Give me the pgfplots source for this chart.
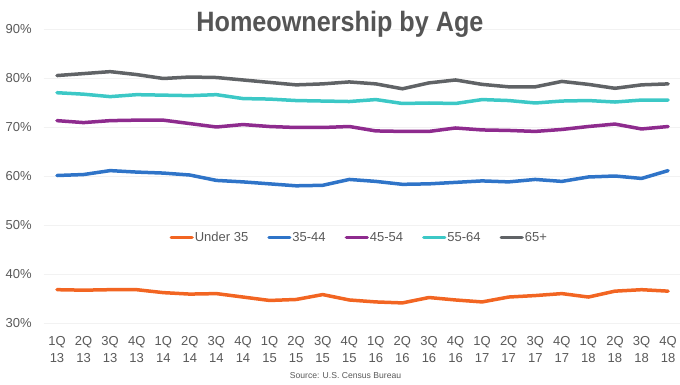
\documentclass[border=0pt]{standalone}
\usepackage{pgfplots}
\pgfplotsset{compat=1.18}
\usepackage{fontspec}
\setmainfont{Liberation Sans}
\newfontfamily\titlefont[FakeStretch=0.9]{Liberation Sans}
\definecolor{cUnder}{HTML}{F26522}
\definecolor{cA}{HTML}{2F74C8}
\definecolor{cB}{HTML}{8E2B8E}
\definecolor{cC}{HTML}{3CC8C6}
\definecolor{cD}{HTML}{606366}
\definecolor{txt}{HTML}{595959}
\definecolor{ttl}{HTML}{555555}
\definecolor{gridc}{HTML}{F2F2F2}
\definecolor{basec}{HTML}{DCDCDC}
\begin{document}
\begin{tikzpicture}[x=1pt,y=1pt]
\useasboundingbox (-43.7,-61) rectangle (636.3,323);
\begin{axis}[
  at={(0,0)}, anchor=south west,
  scale only axis, width=637.7pt, height=294pt,
  xmin=-0.5, xmax=23.5, ymin=30, ymax=90,
  ytick={40,50,...,90},
  extra y ticks={30},
  extra y tick style={grid style={color=basec, line width=1.4pt}},
  yticklabel={\pgfmathprintnumber{\tick}\%},
  /pgf/number format/assume math mode=true,
  axis line style={draw=none},
  tick style={draw=none},
  ymajorgrids,
  major grid style={color=gridc, line width=0.8pt},
  yticklabel style={font=\fontsize{13}{15}\selectfont, text=txt, anchor=east, xshift=-8.5pt},
  xtick={0,...,23},
  xticklabels={{1Q\\13},{2Q\\13},{3Q\\13},{4Q\\13},{1Q\\14},{2Q\\14},{3Q\\14},{4Q\\14},{1Q\\15},{2Q\\15},{3Q\\15},{4Q\\15},{1Q\\16},{2Q\\16},{3Q\\16},{4Q\\16},{1Q\\17},{2Q\\17},{3Q\\17},{4Q\\17},{1Q\\18},{2Q\\18},{3Q\\18},{4Q\\18}},
  xticklabel style={font=\fontsize{13}{17.3}\selectfont, text=txt, align=center, anchor=north, yshift=-9.5pt},
  legend style={at={(0.494,0.29)}, anchor=center, draw=none, fill=none,
    legend columns=-1, font=\fontsize{13}{15}\selectfont, text=txt,
    /tikz/every even column/.append style={column sep=18pt},
    nodes={inner xsep=1pt, inner ysep=2pt}},
  legend image code/.code={\draw[#1, line width=3.2pt] (0pt,0pt) -- (21pt,0pt);},
  every axis plot/.append style={line width=3.5pt, line join=round, line cap=round, mark=none},
]
\addplot[cUnder] coordinates {(0,36.8)(1,36.7)(2,36.8)(3,36.8)(4,36.2)(5,35.9)(6,36.0)(7,35.3)(8,34.6)(9,34.8)(10,35.8)(11,34.7)(12,34.3)(13,34.1)(14,35.2)(15,34.7)(16,34.3)(17,35.3)(18,35.6)(19,36.0)(20,35.3)(21,36.5)(22,36.8)(23,36.5)};
\addlegendentry{Under 35}
\addplot[cA] coordinates {(0,60.1)(1,60.3)(2,61.1)(3,60.8)(4,60.6)(5,60.2)(6,59.1)(7,58.8)(8,58.4)(9,58.0)(10,58.1)(11,59.3)(12,58.9)(13,58.3)(14,58.4)(15,58.7)(16,59.0)(17,58.8)(18,59.3)(19,58.9)(20,59.8)(21,60.0)(22,59.5)(23,61.1)};
\addlegendentry{35-44}
\addplot[cB] coordinates {(0,71.3)(1,70.9)(2,71.3)(3,71.4)(4,71.4)(5,70.7)(6,70.0)(7,70.5)(8,70.1)(9,69.9)(10,69.9)(11,70.1)(12,69.2)(13,69.1)(14,69.1)(15,69.8)(16,69.4)(17,69.3)(18,69.1)(19,69.5)(20,70.1)(21,70.6)(22,69.6)(23,70.1)};
\addlegendentry{45-54}
\addplot[cC] coordinates {(0,77.0)(1,76.7)(2,76.2)(3,76.6)(4,76.5)(5,76.4)(6,76.6)(7,75.8)(8,75.7)(9,75.4)(10,75.3)(11,75.2)(12,75.6)(13,74.8)(14,74.9)(15,74.8)(16,75.6)(17,75.4)(18,74.9)(19,75.3)(20,75.4)(21,75.1)(22,75.5)(23,75.5)};
\addlegendentry{55-64}
\addplot[cD] coordinates {(0,80.5)(1,80.9)(2,81.3)(3,80.7)(4,79.9)(5,80.2)(6,80.1)(7,79.6)(8,79.1)(9,78.6)(10,78.8)(11,79.2)(12,78.8)(13,77.8)(14,79.0)(15,79.6)(16,78.7)(17,78.2)(18,78.2)(19,79.3)(20,78.7)(21,77.9)(22,78.6)(23,78.8)};
\addlegendentry{65+}
\end{axis}
\node[anchor=base, text=ttl, font=\titlefont\bfseries\fontsize{28}{32}\selectfont] at (296.3,292) {Homeownership by Age};
\node[anchor=center, text=txt, font=\fontsize{8.6}{10}\selectfont] at (301.8,-53) {Source: U.S. Census Bureau};
\end{tikzpicture}
\end{document}
